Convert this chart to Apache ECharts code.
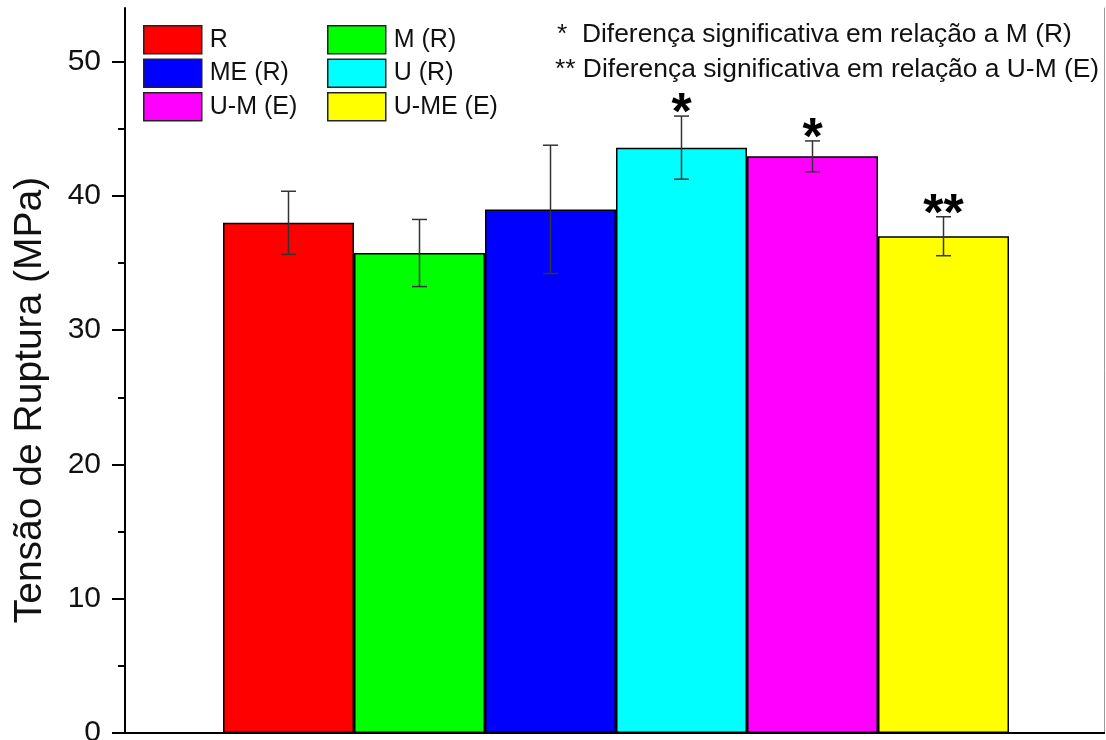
<!DOCTYPE html>
<html>
<head>
<meta charset="utf-8">
<script src="https://cdn.jsdelivr.net/npm/echarts@6/dist/echarts.min.js"></script>
<style>html,body{margin:0;padding:0;background:#fff;}#c{width:1106px;height:740px;}</style>
</head>
<body>
<div id="c"></div>
<script>
const categories = ['R', 'M (R)', 'ME (R)', 'U (R)', 'U-M (E)', 'U-ME (E)'];
const means = [38.0, 35.75, 39.0, 43.6, 42.95, 37.0];
const errors = [2.35, 2.5, 4.78, 2.35, 1.15, 1.45];
const marks = ['', '', '', '*', '*', '**'];
const colors = ['#ff0000', '#00ff00', '#0000ff', '#00ffff', '#ff00ff', '#ffff00'];
const yMajorTicks = [0, 10, 20, 30, 40, 50];
const yMinorTicks = [5, 15, 25, 35, 45];
const yMax = 54;
const yTitle = 'Tensão de Ruptura (MPa)';
const notes = ['*  Diferença significativa em relação a M (R)', '** Diferença significativa em relação a U-M (E)'];

const FONT = "'Liberation Sans', Arial, sans-serif";
const chart = echarts.init(document.getElementById('c'), null, {renderer: 'canvas'});

const barSeries = categories.map((name, i) => ({
  name: name,
  type: 'bar',
  xAxisIndex: 2,
  yAxisIndex: 3,
  stack: 'all',
  barCategoryGap: '0%',
  data: categories.map((c, j) => (j === i ? means[i] : '-')),
  itemStyle: {color: colors[i], borderColor: '#000', borderWidth: 1.5},
  emphasis: {disabled: true},
  z: 2
}));

const errData = categories.map((c, i) => [i, means[i] - errors[i], means[i] + errors[i], marks[i]]);

const errSeries = {
  type: 'custom',
  xAxisIndex: 2,
  yAxisIndex: 3,
  z: 5,
  silent: true,
  data: errData,
  renderItem: function (params, api) {
    const x = api.value(0);
    const lo = api.coord([x, api.value(1)]);
    const hi = api.coord([x, api.value(2)]);
    const cw = 7.5;
    const st = {stroke: '#333', lineWidth: 1.5};
    const children = [
      {type: 'line', shape: {x1: lo[0], y1: lo[1], x2: hi[0], y2: hi[1]}, style: st},
      {type: 'line', shape: {x1: hi[0] - cw, y1: hi[1], x2: hi[0] + cw, y2: hi[1]}, style: st},
      {type: 'line', shape: {x1: lo[0] - cw, y1: lo[1], x2: lo[0] + cw, y2: lo[1]}, style: st}
    ];
    const m = errData[params.dataIndex][3];
    if (m) {
      children.push({type: 'text', style: {text: m, x: hi[0], y: hi[1] - 1, fontSize: 52, fontWeight: 'bold', fontFamily: FONT, fill: '#000', align: 'center', verticalAlign: 'middle'}});
    }
    return {type: 'group', children: children};
  }
};

const legendCommon = {
  orient: 'vertical',
  top: 25,
  padding: 0,
  itemWidth: 58,
  itemHeight: 28,
  itemGap: 4,
  icon: 'rect',
  selectedMode: false,
  itemStyle: {borderColor: '#222', borderWidth: 1.5},
  textStyle: {fontSize: 25, color: '#111', fontFamily: FONT, padding: [0, 0, 0, 3]}
};

chart.setOption({
  animation: false,
  textStyle: {fontFamily: FONT},
  grid: [
    {left: 125, right: 2, top: 8, bottom: 7, containLabel: false, outerBoundsMode: 'none'},
    {left: 223, width: 786, top: 8, bottom: 7, containLabel: false, outerBoundsMode: 'none'}
  ],
  legend: [
    Object.assign({}, legendCommon, {left: 143, data: [categories[0], categories[2], categories[4]]}),
    Object.assign({}, legendCommon, {left: 327, data: [categories[1], categories[3], categories[5]]})
  ],
  xAxis: [
    {gridIndex: 0, type: 'category', data: [''], position: 'bottom',
      axisLine: {lineStyle: {color: '#000', width: 2}}, axisTick: {show: false}, axisLabel: {show: false}},
    {gridIndex: 0, type: 'category', data: [''], position: 'top',
      axisLine: {lineStyle: {color: '#000', width: 2}}, axisTick: {show: false}, axisLabel: {show: false}},
    {gridIndex: 1, type: 'category', data: categories, show: false}
  ],
  yAxis: [
    {gridIndex: 0, type: 'value', min: 0, max: yMax, interval: 10, position: 'left',
      axisLine: {show: true, lineStyle: {color: '#000', width: 2}},
      axisTick: {show: true, length: 13, inside: false, lineStyle: {color: '#000', width: 2}, customValues: yMajorTicks},
      axisLabel: {fontSize: 30, color: '#111', margin: 24, fontFamily: FONT, customValues: yMajorTicks},
      splitLine: {show: false}},
    {gridIndex: 0, type: 'value', min: 0, max: yMax, interval: 5, position: 'left',
      axisLine: {show: false},
      axisTick: {show: true, length: 7, lineStyle: {color: '#000', width: 2}, customValues: yMinorTicks},
      axisLabel: {show: false}, splitLine: {show: false}},
    {gridIndex: 0, type: 'value', min: 0, max: yMax, position: 'right',
      axisLine: {show: true, lineStyle: {color: '#999', width: 1}},
      axisTick: {show: false}, axisLabel: {show: false}, splitLine: {show: false}},
    {gridIndex: 1, type: 'value', min: 0, max: yMax, show: false}
  ],
  graphic: [
    {type: 'text', x: 30, y: 400, rotation: Math.PI / 2,
      style: {text: yTitle, fontSize: 39, fontFamily: FONT, fill: '#111', align: 'center', verticalAlign: 'middle'}},
    {type: 'text', x: 557, y: 35,
      style: {text: notes[0], fontSize: 26.4, fontFamily: FONT, fill: '#111', align: 'left', verticalAlign: 'middle'}},
    {type: 'text', x: 555, y: 70,
      style: {text: notes[1], fontSize: 26.4, fontFamily: FONT, fill: '#111', align: 'left', verticalAlign: 'middle'}}
  ],
  series: barSeries.concat([errSeries])
});
</script>
</body>
</html>
